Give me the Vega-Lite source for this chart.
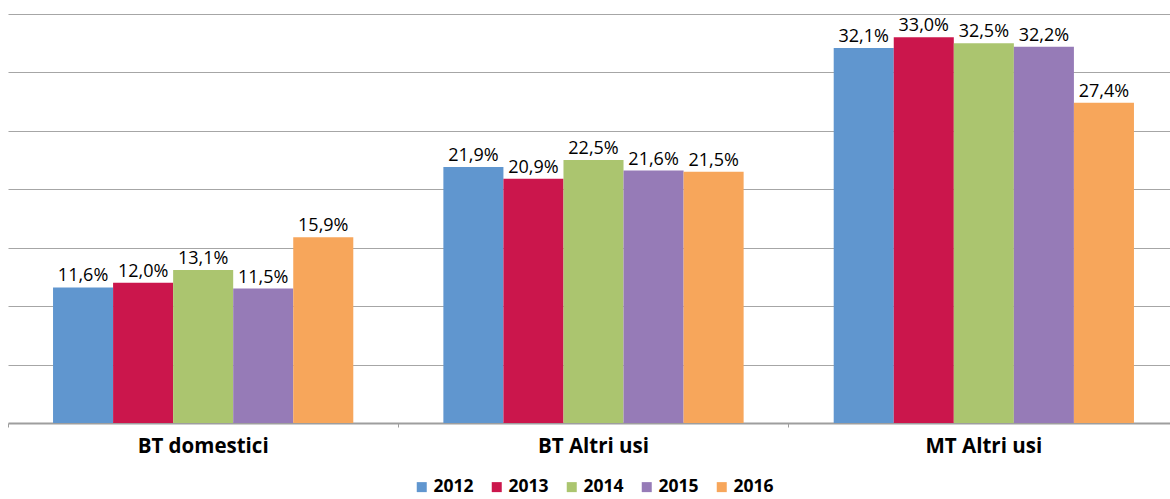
{
  "$schema": "https://vega.github.io/schema/vega-lite/v6.json",
  "autosize": "none",
  "width": 1171,
  "height": 409,
  "padding": {"left": 8, "top": 14, "right": 0, "bottom": 76},
  "config": {
    "locale": {"number": {"decimal": ",", "thousands": ".", "grouping": [3], "currency": ["€", ""]}},
    "view": {"stroke": null},
    "font": "Open Sans",
    "legend": {"layout": {"bottom": {"anchor": "middle"}}}
  },
  "data": {
    "values": [
      {"cat": "BT domestici", "year": "2012", "v": 0.116},
      {"cat": "BT domestici", "year": "2013", "v": 0.120},
      {"cat": "BT domestici", "year": "2014", "v": 0.131},
      {"cat": "BT domestici", "year": "2015", "v": 0.115},
      {"cat": "BT domestici", "year": "2016", "v": 0.159},
      {"cat": "BT Altri usi", "year": "2012", "v": 0.219},
      {"cat": "BT Altri usi", "year": "2013", "v": 0.209},
      {"cat": "BT Altri usi", "year": "2014", "v": 0.225},
      {"cat": "BT Altri usi", "year": "2015", "v": 0.216},
      {"cat": "BT Altri usi", "year": "2016", "v": 0.215},
      {"cat": "MT Altri usi", "year": "2012", "v": 0.321},
      {"cat": "MT Altri usi", "year": "2013", "v": 0.330},
      {"cat": "MT Altri usi", "year": "2014", "v": 0.325},
      {"cat": "MT Altri usi", "year": "2015", "v": 0.322},
      {"cat": "MT Altri usi", "year": "2016", "v": 0.274}
    ]
  },
  "encoding": {
    "x": {
      "field": "cat", "type": "nominal", "sort": null,
      "scale": {"paddingInner": 0, "paddingOuter": 0},
      "axis": {
        "title": null, "labelAngle": 0, "bandPosition": 0,
        "domainColor": "#9e9e9e", "domainWidth": 2,
        "tickColor": "#9e9e9e", "tickSize": 4, "tickWidth": 1,
        "labelFontSize": 20.5, "labelFontWeight": "bold", "labelColor": "#000000",
        "labelPadding": 9
      }
    },
    "xOffset": {
      "field": "year", "type": "nominal",
      "scale": {"paddingInner": 0, "paddingOuter": 0.75}
    },
    "y": {
      "field": "v", "type": "quantitative",
      "scale": {"domain": [0, 0.35]},
      "axis": {
        "title": null, "labels": false, "ticks": false, "domain": false,
        "values": [0.05, 0.1, 0.15, 0.2, 0.25, 0.3, 0.35],
        "gridColor": "#a6a6a6", "gridWidth": 1.2, "gridOpacity": 1
      }
    }
  },
  "layer": [
    {
      "mark": {"type": "bar"},
      "encoding": {
        "color": {
          "field": "year", "type": "nominal",
          "scale": {"domain": ["2012", "2013", "2014", "2015", "2016"],
                    "range": ["#6096CF", "#CB164C", "#ABC56F", "#967BB7", "#F7A65B"]},
          "legend": {
            "title": null, "orient": "bottom", "direction": "horizontal",
            "symbolType": "square", "symbolSize": 100, "symbolStrokeWidth": 0,
            "labelFontSize": 17.5, "labelFontWeight": "bold", "labelColor": "#000000",
            "columnPadding": 14, "labelOffset": 3, "offset": 21
          }
        }
      }
    },
    {
      "mark": {"type": "text", "baseline": "bottom", "dy": -2, "fontSize": 18, "color": "#000000"},
      "encoding": {
        "text": {"field": "v", "type": "quantitative", "format": ".1%"}
      }
    }
  ]
}
